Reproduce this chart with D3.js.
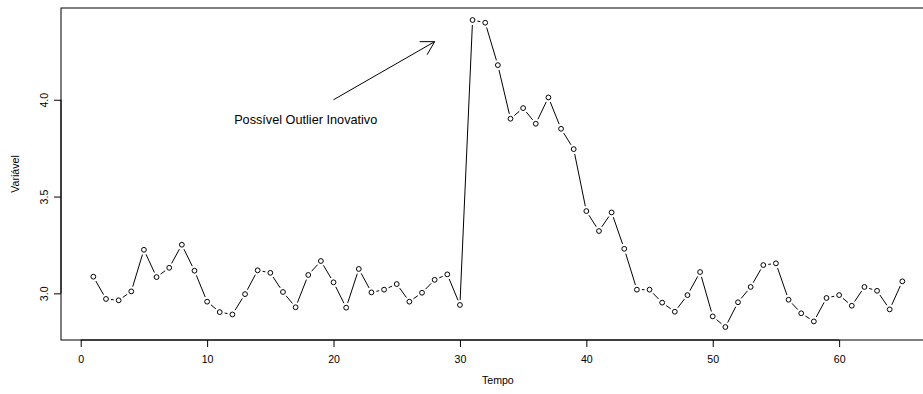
<!DOCTYPE html>
<html>
<head>
<meta charset="utf-8">
<script src="https://cdn.jsdelivr.net/npm/d3@7"></script>
<style>
  html, body { margin: 0; padding: 0; background: #fff; overflow: hidden; }
  text { font-family: "Liberation Sans", Arial, Helvetica, sans-serif; fill: #000; }
</style>
</head>
<body>
<svg id="chart" width="923" height="394"></svg>
<script>
// Time index and observed series
const tempo = d3.range(1, 66);
const variavel = [
  3.086, 2.971, 2.964, 3.010, 3.225, 3.084, 3.132, 3.251, 3.117, 2.957,
  2.903, 2.891, 2.996, 3.119, 3.106, 3.007, 2.928, 3.095, 3.167, 3.057,
  2.926, 3.126, 3.005, 3.019, 3.048, 2.957, 3.003, 3.070, 3.098, 2.940,
  4.412, 4.398, 4.179, 3.902, 3.957, 3.876, 4.012, 3.850, 3.745, 3.425,
  3.322, 3.418, 3.230, 3.019, 3.019, 2.952, 2.905, 2.991, 3.110, 2.881,
  2.826, 2.954, 3.033, 3.146, 3.155, 2.967, 2.897, 2.855, 2.976, 2.991,
  2.936, 3.033, 3.013, 2.917, 3.062
];
const xTicks = [0, 10, 20, 30, 40, 50, 60];
const yTicks = [3.0, 3.5, 4.0];
const xLimits = [-1.56, 67.56];
const yLimits = [2.759, 4.474];

// Annotation: arrow from (20, 4.0) to (28, 4.3), label near (17.8, 3.9)
const arrowFrom = [20, 4.0];
const arrowTo = [28, 4.3];
const labelPos = [17.8, 3.895];
const labelText = "Possível Outlier Inovativo";

const svg = d3.select("#chart");
const plot = { left: 61, right: 934.7, top: 8, bottom: 340 };
const axisFont = 10.6;

const x = d3.scaleLinear().domain(xLimits).range([plot.left, plot.right]);
const y = d3.scaleLinear().domain(yLimits).range([plot.bottom, plot.top]);

const data = tempo.map((t, i) => ({ t, v: variavel[i] }));

// Plot frame
svg.append("rect")
  .attr("x", plot.left).attr("y", plot.top)
  .attr("width", plot.right - plot.left).attr("height", plot.bottom - plot.top)
  .attr("fill", "none").attr("stroke", "#000").attr("stroke-width", 1);

// X axis
const xAxis = svg.append("g")
  .attr("transform", `translate(0,${plot.bottom})`)
  .call(d3.axisBottom(x).tickValues(xTicks).tickFormat(d3.format("d")).tickSize(7).tickPadding(8).tickSizeOuter(0));
xAxis.select(".domain").attr("d", `M${x(xTicks[0])},0H${x(xTicks[xTicks.length - 1])}`).attr("stroke", "#000");
xAxis.selectAll("text").attr("font-size", axisFont).attr("font-family", "Liberation Sans, Arial, sans-serif").attr("fill", "#000");
xAxis.selectAll("line").attr("stroke", "#000");

// Y axis with rotated labels
const yAxis = svg.append("g")
  .attr("transform", `translate(${plot.left},0)`)
  .call(d3.axisLeft(y).tickValues(yTicks).tickFormat(d3.format(".1f")).tickSize(7).tickSizeOuter(0));
yAxis.select(".domain").attr("d", `M0,${y(yTicks[0])}V${y(yTicks[yTicks.length - 1])}`).attr("stroke", "#000");
yAxis.selectAll("line").attr("stroke", "#000");
yAxis.selectAll(".tick text")
  .attr("x", null).attr("dy", null)
  .attr("transform", "translate(-17,0) rotate(-90)")
  .attr("text-anchor", "middle")
  .attr("dominant-baseline", "central")
  .attr("font-size", axisFont).attr("font-family", "Liberation Sans, Arial, sans-serif").attr("fill", "#000");

// Axis titles
svg.append("text")
  .attr("x", (plot.left + plot.right) / 2).attr("y", 380)
  .attr("text-anchor", "middle").attr("dominant-baseline", "central")
  .attr("font-size", axisFont).text("Tempo");
svg.append("text")
  .attr("transform", `translate(15,${(plot.top + plot.bottom) / 2}) rotate(-90)`)
  .attr("text-anchor", "middle").attr("dominant-baseline", "central")
  .attr("font-size", axisFont).text("Variável");

// Connecting segments with gaps around the points
const gap = 5;
const segs = [];
for (let i = 0; i < data.length - 1; i++) {
  const x0 = x(data[i].t), y0 = y(data[i].v);
  const x1 = x(data[i + 1].t), y1 = y(data[i + 1].v);
  const len = Math.hypot(x1 - x0, y1 - y0);
  if (len > 2 * gap) {
    const ux = (x1 - x0) / len, uy = (y1 - y0) / len;
    segs.push([x0 + ux * gap, y0 + uy * gap, x1 - ux * gap, y1 - uy * gap]);
  }
}
svg.append("g").selectAll("line").data(segs).join("line")
  .attr("x1", d => d[0]).attr("y1", d => d[1])
  .attr("x2", d => d[2]).attr("y2", d => d[3])
  .attr("stroke", "#000").attr("stroke-width", 1);

// Open circle markers
svg.append("g").selectAll("circle").data(data).join("circle")
  .attr("cx", d => x(d.t)).attr("cy", d => y(d.v)).attr("r", 2.4)
  .attr("fill", "none").attr("stroke", "#000").attr("stroke-width", 1);

// Annotation arrow
const ax0 = x(arrowFrom[0]), ay0 = y(arrowFrom[1]);
const ax1 = x(arrowTo[0]), ay1 = y(arrowTo[1]);
const ang = Math.atan2(ay1 - ay0, ax1 - ax0);
const headLen = 15, headAng = Math.PI / 6;
const arrowPath = d3.path();
arrowPath.moveTo(ax0, ay0);
arrowPath.lineTo(ax1, ay1);
arrowPath.moveTo(ax1 - headLen * Math.cos(ang - headAng), ay1 - headLen * Math.sin(ang - headAng));
arrowPath.lineTo(ax1, ay1);
arrowPath.lineTo(ax1 - headLen * Math.cos(ang + headAng), ay1 - headLen * Math.sin(ang + headAng));
svg.append("path").attr("d", arrowPath.toString())
  .attr("fill", "none").attr("stroke", "#000").attr("stroke-width", 1);

svg.append("text")
  .attr("x", x(labelPos[0])).attr("y", y(labelPos[1]))
  .attr("text-anchor", "middle").attr("dominant-baseline", "central")
  .attr("font-size", 12.7).text(labelText);
</script>
</body>
</html>
